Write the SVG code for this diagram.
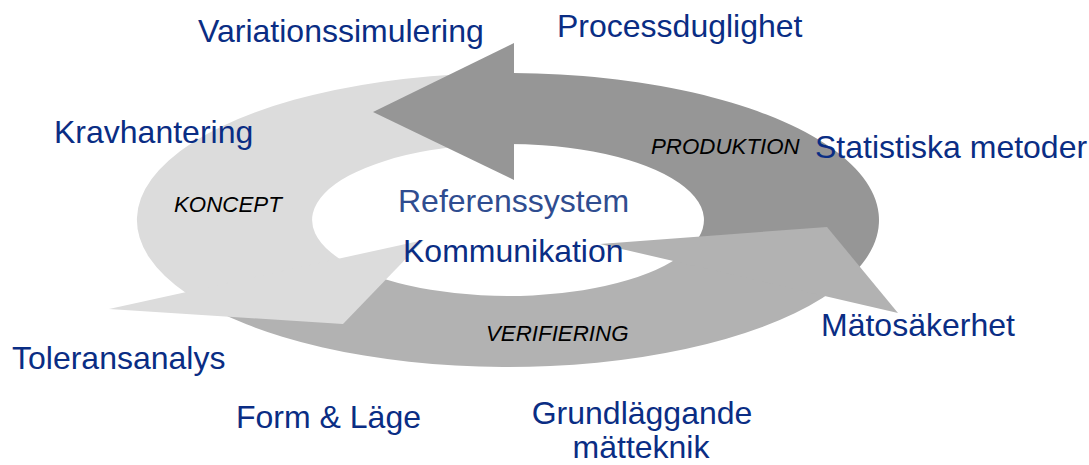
<svg xmlns="http://www.w3.org/2000/svg" width="1089" height="465" viewBox="0 0 1089 465">
<style>
.light{fill:#dcdcdc}
.dark{fill:#969696}
.mid{fill:#b2b2b2}
.lbl{font-family:"Liberation Sans",Arial,sans-serif;font-size:32px;fill:#0a2d84}
.ref{fill:#2f4d90}
.phase{font-family:"Liberation Sans",Arial,sans-serif;font-size:22.3px;font-style:italic;fill:#000}
</style>
<rect width="1089" height="465" fill="#fff"/>
<g id="cycle">
  <g id="shafts">
    <path id="koncept-shaft" class="light" d="M215,310.2 A371,147 0 0 1 480,73.4 L480,144.8 A196,76 0 0 0 360,269.8 Z"/>
    <path id="produktion-shaft" class="dark" d="M490,73.2 A371,147 0 0 1 850,277 L680,256.4 A196,76 0 0 0 490,144.3 Z"/>
    <path id="verifiering-shaft" class="mid" d="M215,310.2 A371,147 0 0 0 845,281.5 L690,248.2 A196,76 0 0 1 350,265 Z"/>
  </g>
  <g id="heads">
    <polygon id="koncept-head" class="light" points="109,309 343,324 424,240"/>
    <polygon id="produktion-head" class="dark" points="373,112 514,43 514,180"/>
    <polygon id="verifiering-head" class="mid" points="600,244 827,227 898,313"/>
  </g>
</g>
<g id="phase-labels">
  <g id="koncept"><text class="phase" x="174" y="212">KONCEPT</text></g>
  <g id="produktion"><text class="phase" x="651" y="154">PRODUKTION</text></g>
  <g id="verifiering"><text class="phase" x="486" y="341">VERIFIERING</text></g>
</g>
<g id="topics">
  <g id="t-variationssimulering"><text class="lbl" x="198" y="42">Variationssimulering</text></g>
  <g id="t-processduglighet"><text class="lbl" x="557" y="37">Processduglighet</text></g>
  <g id="t-kravhantering"><text class="lbl" x="54" y="143">Kravhantering</text></g>
  <g id="t-referenssystem"><text class="lbl ref" x="398" y="212">Referenssystem</text></g>
  <g id="t-kommunikation"><text class="lbl" x="403" y="262">Kommunikation</text></g>
  <g id="t-statistiska"><text class="lbl" x="815" y="158">Statistiska metoder</text></g>
  <g id="t-matosakerhet"><text class="lbl" x="821" y="336">Mätosäkerhet</text></g>
  <g id="t-toleransanalys"><text class="lbl" x="12" y="369">Toleransanalys</text></g>
  <g id="t-formlage"><text class="lbl" x="236" y="428">Form &amp; Läge</text></g>
  <g id="t-grundlaggande"><text class="lbl" text-anchor="middle"><tspan x="642" y="424">Grundläggande</tspan><tspan x="641" y="458">mätteknik</tspan></text></g>
</g>
</svg>
